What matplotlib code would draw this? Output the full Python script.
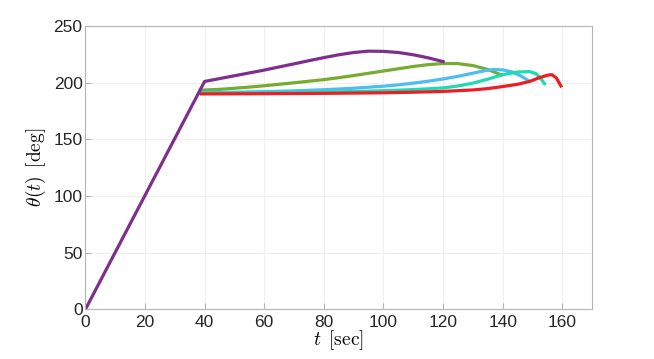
import matplotlib
matplotlib.use('Agg')
import matplotlib.pyplot as plt

plt.rcParams['font.family'] = ['Liberation Sans', 'DejaVu Sans']
plt.rcParams['mathtext.fontset'] = 'cm'

# (t in sec, theta in deg)
t_purple = [0, 40, 45, 50, 55, 60, 65, 70, 75, 80, 85, 90, 95, 100, 105, 110, 115, 120]
th_purple = [0, 201, 203.5, 206, 208.5, 211, 213.8, 216.5, 219.3, 222, 224.5, 226.5, 227.7, 227.5, 226.5, 224.5, 221.8, 218.5]

t_green = [38.5, 45, 50, 55, 60, 65, 70, 75, 80, 85, 90, 95, 100, 105, 110, 115, 120, 125, 130, 135, 139.5]
th_green = [193.3, 194, 195, 196, 197.2, 198.5, 199.8, 201.2, 202.6, 204.3, 206.2, 208.2, 210.2, 212.2, 214.2, 215.8, 216.8, 216.7, 215, 211.5, 206.8]

t_blue = [38.5, 50, 60, 70, 80, 90, 100, 105, 110, 115, 120, 125, 130, 134, 137, 140, 143, 146, 149]
th_blue = [191.2, 191.5, 192, 192.7, 193.7, 195, 196.8, 198, 199.5, 201.2, 203.2, 205.5, 208.3, 210.5, 211.5, 211.2, 209.5, 206, 201]

t_teal = [38.5, 50, 60, 70, 80, 90, 100, 110, 115, 120, 125, 130, 135, 140, 145, 149, 151, 152.5, 154]
th_teal = [190.5, 190.7, 190.9, 191.2, 191.6, 192.1, 192.8, 193.8, 194.5, 195.3, 197, 199.5, 203, 207, 209.3, 209.7, 208, 204.5, 199]

t_red = [39, 60, 80, 100, 110, 120, 130, 135, 140, 145, 149, 152, 155, 156.5, 158, 159.5]
th_red = [190, 190.2, 190.5, 191, 191.5, 192.2, 193.5, 194.7, 196.5, 198.5, 201, 204, 206.5, 207, 204, 197]

xticks = [0, 20, 40, 60, 80, 100, 120, 140, 160]
yticks = [0, 50, 100, 150, 200, 250]

fig = plt.figure(figsize=(6.54, 3.59), dpi=100)
ax = fig.add_axes([0.1305, 0.138, 0.775, 0.79])

lw = 2.3
ax.plot(t_green, th_green, color='#77AC30', lw=lw)
ax.plot(t_blue, th_blue, color='#4DBEEE', lw=lw)
ax.plot(t_teal, th_teal, color='#1DD9B4', lw=lw)
ax.plot(t_red, th_red, color='#EE1D23', lw=lw)
ax.plot(t_purple, th_purple, color='#7E2F8E', lw=lw)

ax.set_xlim(0, 170)
ax.set_ylim(0, 250)
ax.set_xticks(xticks)
ax.set_yticks(yticks)
ax.grid(True, color='#efefef', lw=0.8)
ax.set_axisbelow(True)
for s in ax.spines.values():
    s.set_color('#b5b5b5')
    s.set_linewidth(0.8)
ax.tick_params(direction='in', length=4, color='#b5b5b5', labelsize=12.5,
               labelcolor='#262626', top=False, right=False)
ax.tick_params(axis='x', pad=4)
ax.tick_params(axis='y', pad=2)

ax.set_xlabel(r'$t\ \, [\mathrm{sec}]$', fontsize=14, labelpad=-1)
ax.set_ylabel(r'$\theta(t)\ \, [\mathrm{deg}]$', fontsize=14, labelpad=4)

fig.savefig('out.png', dpi=100)
